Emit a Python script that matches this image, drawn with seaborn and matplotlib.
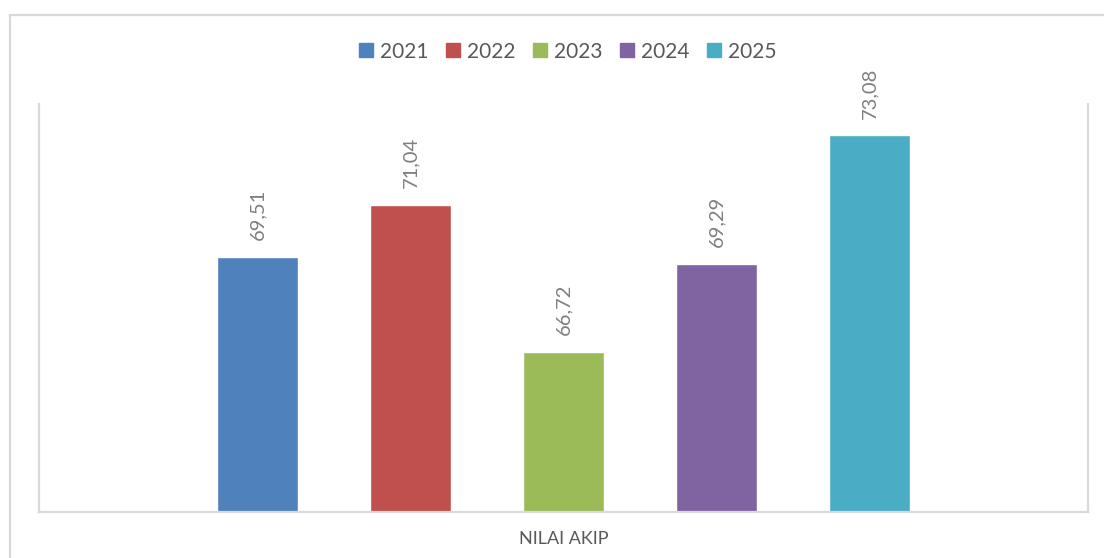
import matplotlib
matplotlib.use("Agg")
import matplotlib.pyplot as plt
import matplotlib.patches as mpatches
import seaborn as sns
import pandas as pd

# ---- data ----
category = ["NILAI AKIP"]
years = ["2021", "2022", "2023", "2024", "2025"]
values = [69.51, 71.04, 66.72, 69.29, 73.08]
labels = ["69,51", "71,04", "66,72", "69,29", "73,08"]
colors = ["#4F81BD", "#C0504D", "#9BBB59", "#8064A2", "#4BACC6"]

df = pd.DataFrame({"cat": category * len(years), "year": years, "value": values})

sns.set_theme(style="white")
plt.rcParams["font.family"] = ["Lato", "DejaVu Sans"]

fig = plt.figure(figsize=(11.04, 5.58), dpi=100)
fig.patch.set_facecolor("white")

# outer chart border (extends past right/bottom edges)
W, H = 1104, 558
fig.add_artist(plt.Line2D([9.5 / W, 1.2], [1 - 14.5 / H, 1 - 14.5 / H],
                          transform=fig.transFigure, color="#d9d9d9", lw=1.6))
fig.add_artist(plt.Line2D([9.5 / W, 9.5 / W], [1 - 14.5 / H, -0.2],
                          transform=fig.transFigure, color="#d9d9d9", lw=1.6))

ax = fig.add_axes([39 / W, 1 - 512 / H, (1088 - 39) / W, (512 - 104) / H])
sns.barplot(data=df, x="cat", y="value", hue="year", palette=colors,
            width=0.729, gap=0.47, ax=ax, legend=False, saturation=1)

ax.set_xlim(-0.5, 0.5)
ax.set_ylim(62, 74)
ax.set_yticks([])
ax.set_xlabel("")
ax.set_ylabel("")
ax.tick_params(axis="x", length=0, pad=14, labelsize=13, labelcolor="#595959")

for s in ["left", "right", "bottom"]:
    ax.spines[s].set_visible(True)
    ax.spines[s].set_color("#d9d9d9")
    ax.spines[s].set_linewidth(1.6)
ax.spines["top"].set_visible(False)

# value labels
for patch, lab in zip(ax.patches, labels):
    x = patch.get_x() + patch.get_width() / 2
    y = patch.get_height() + patch.get_y()
    ax.annotate(lab, (x, y), xytext=(0, 12), textcoords="offset points",
                rotation=90, ha="center", va="bottom", fontsize=14.5,
                color="#7f7f7f", annotation_clip=False)

handles = [mpatches.Patch(color=c, label=y) for c, y in zip(colors, years)]
fig.legend(handles=handles, loc="center", bbox_to_anchor=(568 / W, 1 - 51.5 / H),
           ncol=5, frameon=False, fontsize=15, handlelength=0.65, handleheight=0.65,
           handletextpad=0.35, columnspacing=0.85, labelcolor="#595959")

fig.savefig("out.png", dpi=100, facecolor="white")
